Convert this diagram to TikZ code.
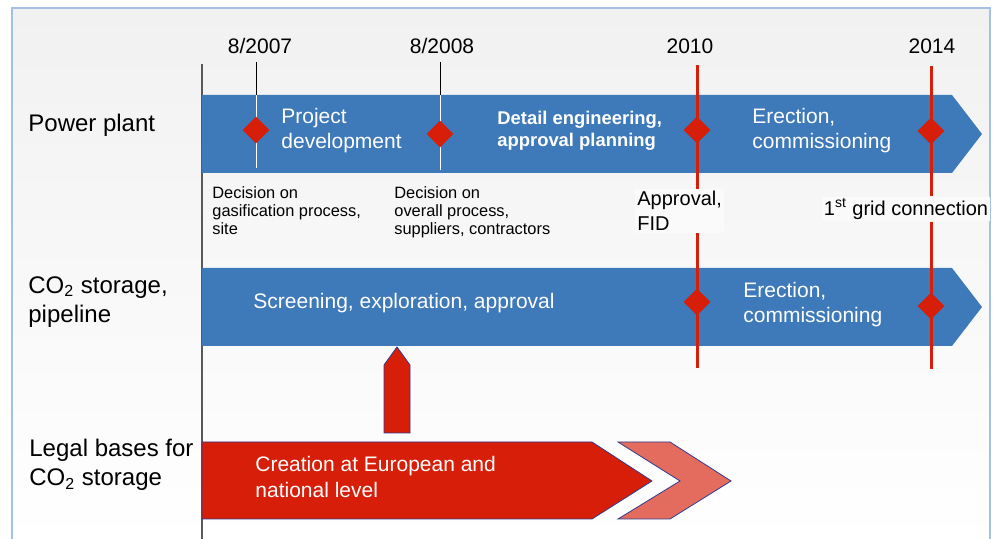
\documentclass[tikz,border=0pt]{standalone}
\usepackage{fontspec}
\setmainfont{Liberation Sans}
\usetikzlibrary{shapes.geometric}
\definecolor{barblue}{RGB}{62,121,185}
\definecolor{msred}{RGB}{214,30,8}
\definecolor{lightred}{RGB}{228,108,94}
\definecolor{frameblue}{RGB}{163,193,228}
\definecolor{edgeblue}{RGB}{50,60,140}

\begin{document}
\begin{tikzpicture}[x=0.5pt,y=-0.5pt,
    diamondstyle/.style={diamond, fill=msred, inner sep=0pt, minimum size=13.5pt},
    milestone/.style={draw=msred, line width=1.5pt},
    bartext/.style={text=white, align=left, anchor=west, inner sep=0pt, font=\fontsize{10.5}{12.5}\selectfont},
    note/.style={align=left, anchor=north west, inner sep=0pt, font=\fontsize{8.2}{9}\selectfont},
    rowlabel/.style={align=left, anchor=west, inner sep=0pt, font=\fontsize{12}{14.5}\selectfont},
    datelabel/.style={font=\fontsize{10.5}{12}\selectfont},
    gapbox/.style={fill=gray!4, align=left, inner xsep=1pt, inner ysep=1pt, font=\fontsize{10}{12.5}\selectfont},
    shapeline/.style={draw=edgeblue, line width=0.4pt}]

\useasboundingbox (0,0) rectangle (993,539);
\clip (0,0) rectangle (993,539);

% background and frame
\shade[top color=gray!11, bottom color=white] (12,8) rectangle (990,545);
\draw[frameblue, line width=1.2pt] (12,8) rectangle (990,545);
\draw[gray!70!black, line width=0.6pt] (202,64) -- (202,539);

% bars
\fill[barblue] (202,95) -- (952,95) -- (982,134) -- (952,173) -- (202,173) -- cycle;
\fill[barblue] (202,268) -- (952,268) -- (982,307) -- (952,346) -- (202,346) -- cycle;
\filldraw[fill=msred, shapeline] (202,442) -- (592,442) -- (652,481) -- (592,519) -- (202,519) -- cycle;
\filldraw[fill=lightred, shapeline] (618,442) -- (670,442) -- (731,481) -- (670,519) -- (618,519) -- (680,481) -- cycle;
\filldraw[fill=msred, shapeline] (384,433) -- (384,365) -- (397,347) -- (410,365) -- (410,433) -- cycle;

% row labels
\node[rowlabel] (power) at (28,125) {Power plant};
\node[rowlabel] (co2) at (28,302) {CO\textsubscript{2} storage,\\pipeline};
\node[rowlabel] (legal) at (29,465) {Legal bases for\\CO\textsubscript{2} storage};

% dates
\node[datelabel] (d2007) at (260,46) {8/2007};
\node[datelabel] (d2008) at (442,46) {8/2008};
\node[datelabel] (d2010) at (690,46) {2010};
\node[datelabel] (d2014) at (932,46) {2014};

% early milestones
\foreach \name/\xpos/\ypos/\low in {a/256/130/168, b/440/134/170} {
    \coordinate (top\name) at (\xpos,62);
    \coordinate (bar\name) at (\xpos,95);
    \coordinate (low\name) at (\xpos,\low);
    \draw[black, line width=0.5pt] (top\name) -- (bar\name);
    \draw[white, line width=0.5pt] (bar\name) -- (low\name);
    \node[diamondstyle] (dia\name) at (\xpos,\ypos) {};
}

% red milestones
\node[gapbox, anchor=north west] (fid) at (635,189) {Approval,\\FID};
\node[gapbox] (grid) at (906,209) {1\textsuperscript{st} grid connection};
\coordinate (topc) at (697,65);
\coordinate (lowc) at (697,368);
\coordinate (topd) at (931,66);
\coordinate (lowd) at (931,369);
\draw[milestone] (topc) -- (fid.north -| topc) (fid.south -| topc) -- (lowc);
\draw[milestone] (topd) -- (grid.north -| topd) (grid.south -| topd) -- (lowd);
\node[diamondstyle] (diac) at (697,130) {};
\node[diamondstyle] (diad) at (931,131) {};
\node[diamondstyle] (diae) at (697,302) {};
\node[diamondstyle] (diaf) at (931,306) {};

% bar texts
\node[bartext] (projdev) at (281,131) {Project\\development};
\node[bartext, font=\bfseries\fontsize{9.2}{11}\selectfont] (detail) at (497,131) {Detail engineering,\\approval planning};
\node[bartext] (erecta) at (752,131) {Erection,\\commissioning};
\node[bartext] (screen) at (253,303) {Screening, exploration, approval};
\node[bartext] (erectb) at (743,305) {Erection,\\commissioning};
\node[bartext, font=\fontsize{10.5}{13}\selectfont] (creation) at (255,477) {Creation at European and\\national level};

% decisions
\node[note] (deca) at (212,186) {Decision on\\gasification process,\\site};
\node[note] (decb) at (394,186) {Decision on\\overall process,\\suppliers, contractors};
\end{tikzpicture}
\end{document}
